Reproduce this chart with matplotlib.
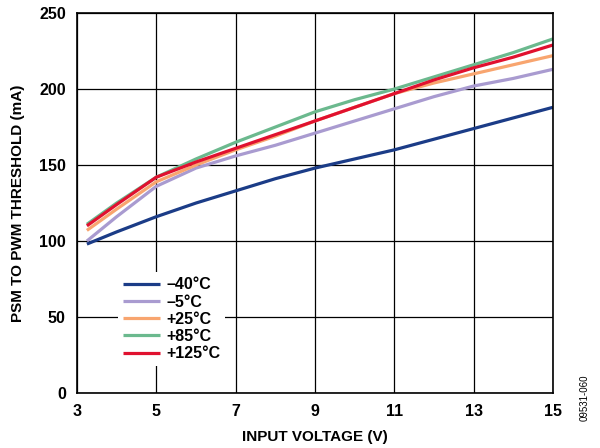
import matplotlib.pyplot as plt

plt.rcParams['font.family'] = ['Liberation Sans', 'DejaVu Sans']

vin = [3.25, 4, 5, 6, 7, 8, 9, 10, 11, 12, 13, 14, 15]
t_m40 = [98, 106, 116, 125, 133, 141, 148, 154, 160, 167, 174, 181, 188]
t_m5 = [100, 116, 136, 148, 156, 163, 171, 179, 187, 195, 202, 207, 213]
t_25 = [107, 121, 139, 150, 160, 169, 179, 188, 197, 204, 210, 216, 222]
t_85 = [111, 125, 142, 154, 165, 175, 185, 193, 200, 208, 216, 224, 233]
t_125 = [110, 124, 142, 152, 161, 170, 179, 188, 197, 206, 214, 221, 229]

labels = ['\u201340\u00b0C', '\u20135\u00b0C', '+25\u00b0C', '+85\u00b0C', '+125\u00b0C']
colors = ['#1b3c87', '#a99bd0', '#f8a56f', '#6bb98e', '#e0112f']
series = [t_m40, t_m5, t_25, t_85, t_125]

fig = plt.figure(figsize=(6, 4.48), dpi=100)
ax = fig.add_axes([0.1283, 0.1228, 0.7933, 0.848])

for ys, lab, c in zip(series, labels, colors):
    ax.plot(vin, ys, color=c, lw=2.3, label=lab, solid_capstyle='butt')

ax.set_xlim(3, 15)
ax.set_ylim(0, 250)
ax.set_xticks(range(3, 16, 2))
ax.set_yticks(range(0, 251, 50))
ax.grid(True, color='black', lw=0.9)
ax.set_axisbelow(True)
ax.tick_params(length=0, pad=8, labelsize=11.5)
for lbl in ax.get_xticklabels() + ax.get_yticklabels():
    lbl.set_fontweight('bold')
for s in ax.spines.values():
    s.set_linewidth(1.2)

ax.set_xlabel('INPUT VOLTAGE (V)', fontsize=11, fontweight='bold', labelpad=8)
ax.set_ylabel('PSM TO PWM THRESHOLD (mA)', fontsize=11, fontweight='bold', labelpad=10)

leg = ax.legend(loc='lower left', bbox_to_anchor=(0.07, 0.05), frameon=True,
                fancybox=False, edgecolor='none', framealpha=1,
                prop={'weight': 'bold', 'size': 11.5}, handlelength=2.3,
                handletextpad=0.4, labelspacing=0.14, borderpad=0.3)

fig.text(0.975, 0.06, '09531-060', rotation=90, fontsize=7, ha='center', va='bottom')

fig.savefig('out.png', dpi=100)
